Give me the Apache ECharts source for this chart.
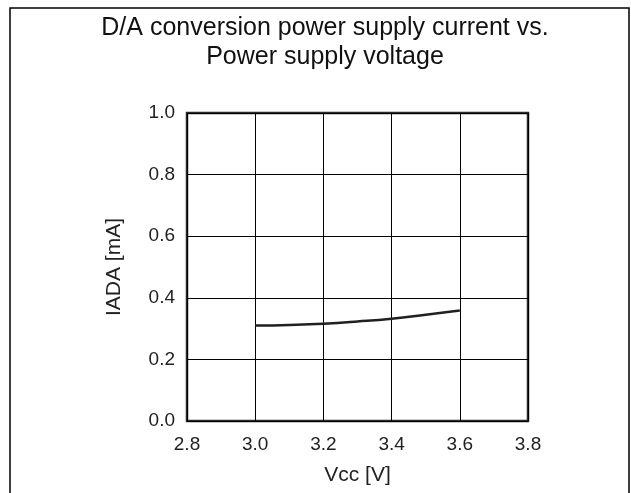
<!DOCTYPE html>
<html>
<head>
<meta charset="utf-8">
<script src="https://cdn.jsdelivr.net/npm/echarts@6/dist/echarts.min.js"></script>
<style>
  html, body { margin: 0; padding: 0; background: #fff; }
  #chart { width: 631px; height: 493px; }
</style>
</head>
<body>
<div id="chart"></div>
<script>
// Supply voltage (V) and D/A conversion supply current (mA)
const vcc = [3.0, 3.1, 3.2, 3.3, 3.4, 3.5, 3.6];
const iada = [0.310, 0.312, 0.316, 0.323, 0.332, 0.345, 0.359];
const titleLines = ['D/A conversion power supply current vs.', 'Power supply voltage'];

const chart = echarts.init(document.getElementById('chart'), null, { renderer: 'canvas' });
const font = '"Liberation Sans", Arial, sans-serif';

chart.setOption({
  animation: false,
  backgroundColor: '#fff',
  title: {
    text: titleLines.join('\n'),
    left: 320,
    textAlign: 'center',
    top: 9,
    textStyle: { fontFamily: font, fontSize: 25, fontWeight: 'normal', color: '#111', lineHeight: 29 }
  },
  graphic: [{
    type: 'rect',
    shape: { x: 10, y: 8, width: 619, height: 500 },
    style: { fill: 'none', stroke: '#000', lineWidth: 1.5 },
    silent: true
  }],
  grid: {
    left: 187, right: 103, top: 113, bottom: 72,
    show: true, borderColor: '#2a2a2a', borderWidth: 2.5, backgroundColor: 'transparent'
  },
  xAxis: {
    type: 'value',
    min: 2.8, max: 3.8, interval: 0.2,
    name: 'Vcc [V]',
    nameLocation: 'middle',
    nameGap: 44,
    nameTextStyle: { fontFamily: font, fontSize: 21, color: '#222' },
    axisLine: { show: false },
    axisTick: { show: false },
    axisLabel: { fontFamily: font, fontSize: 19, color: '#222', margin: 14,
      formatter: v => v.toFixed(1) },
    splitLine: { show: true, lineStyle: { color: '#000', width: 1 } }
  },
  yAxis: {
    type: 'value',
    min: 0, max: 1.0, interval: 0.2,
    name: 'IADA [mA]',
    nameLocation: 'middle',
    nameGap: 62,
    nameTextStyle: { fontFamily: font, fontSize: 21, color: '#222' },
    axisLine: { show: false },
    axisTick: { show: false },
    axisLabel: { fontFamily: font, fontSize: 19, color: '#222', margin: 12,
      formatter: v => v.toFixed(1) },
    splitLine: { show: true, lineStyle: { color: '#000', width: 1 } }
  },
  series: [{
    type: 'line',
    data: vcc.map((v, i) => [v, iada[i]]),
    smooth: true,
    showSymbol: false,
    lineStyle: { color: '#231f20', width: 2.5 }
  }]
});
</script>
</body>
</html>
